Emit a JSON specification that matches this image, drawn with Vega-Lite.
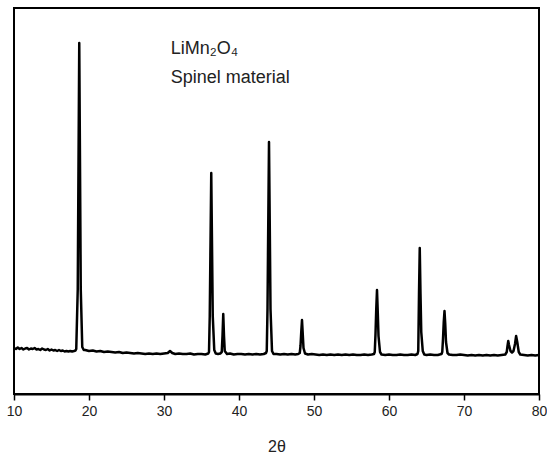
{
  "$schema": "https://vega.github.io/schema/vega-lite/v6.json",
  "width": 525,
  "height": 386,
  "autosize": {"type": "none"},
  "padding": {"left": 14, "top": 8, "right": 8, "bottom": 61},
  "background": "white",
  "config": {
    "view": {"stroke": "black", "strokeWidth": 2},
    "font": "Liberation Sans"
  },
  "datasets": {
    "xrd": [
      {"t": 10.0, "i": 46}, {"t": 10.25, "i": 45}, {"t": 10.5, "i": 46.5}, {"t": 10.75, "i": 45}, {"t": 11.0, "i": 46},
      {"t": 11.25, "i": 44.5}, {"t": 11.5, "i": 45.5}, {"t": 11.75, "i": 46}, {"t": 12.0, "i": 44.5}, {"t": 12.25, "i": 45.5},
      {"t": 12.5, "i": 45}, {"t": 12.75, "i": 46}, {"t": 13.0, "i": 44.5}, {"t": 13.25, "i": 45}, {"t": 13.5, "i": 44},
      {"t": 13.75, "i": 45.5}, {"t": 14.0, "i": 44.5}, {"t": 14.25, "i": 44}, {"t": 14.5, "i": 45}, {"t": 14.75, "i": 43.5},
      {"t": 15.0, "i": 44.5}, {"t": 15.25, "i": 43.5}, {"t": 15.5, "i": 44}, {"t": 15.75, "i": 43}, {"t": 16.0, "i": 44},
      {"t": 16.25, "i": 43}, {"t": 16.5, "i": 43.5}, {"t": 16.75, "i": 42.5}, {"t": 17.0, "i": 43}, {"t": 17.25, "i": 42.5},
      {"t": 17.5, "i": 43}, {"t": 17.75, "i": 42.5}, {"t": 18.0, "i": 43}, {"t": 18.2, "i": 43.5},
      {"t": 18.3, "i": 45}, {"t": 18.5, "i": 105}, {"t": 18.6, "i": 230}, {"t": 18.7, "i": 351}, {"t": 18.8, "i": 230},
      {"t": 18.9, "i": 105}, {"t": 19.1, "i": 47}, {"t": 19.3, "i": 44},
      {"t": 19.5, "i": 44}, {"t": 20.0, "i": 43}, {"t": 20.5, "i": 43.5}, {"t": 21.0, "i": 42.5}, {"t": 21.5, "i": 43},
      {"t": 22.0, "i": 42}, {"t": 22.5, "i": 42.5}, {"t": 23.0, "i": 42}, {"t": 23.5, "i": 41.5}, {"t": 24.0, "i": 42},
      {"t": 24.5, "i": 41}, {"t": 25.0, "i": 41.5}, {"t": 25.5, "i": 41}, {"t": 26.0, "i": 40.5}, {"t": 26.5, "i": 41},
      {"t": 27.0, "i": 40.5}, {"t": 27.5, "i": 40}, {"t": 28.0, "i": 40.5}, {"t": 28.5, "i": 40}, {"t": 29.0, "i": 40.5},
      {"t": 29.5, "i": 40}, {"t": 30.0, "i": 40.5}, {"t": 30.5, "i": 41}, {"t": 30.8, "i": 43}, {"t": 31.1, "i": 41},
      {"t": 31.5, "i": 40}, {"t": 32.0, "i": 40.5}, {"t": 32.5, "i": 40}, {"t": 33.0, "i": 40}, {"t": 33.5, "i": 40.5},
      {"t": 34.0, "i": 39.5}, {"t": 34.5, "i": 40}, {"t": 35.0, "i": 40}, {"t": 35.5, "i": 39.5}, {"t": 35.9, "i": 40.5},
      {"t": 36.0, "i": 42}, {"t": 36.1, "i": 78}, {"t": 36.2, "i": 150}, {"t": 36.3, "i": 221}, {"t": 36.4, "i": 150},
      {"t": 36.5, "i": 78}, {"t": 36.7, "i": 44}, {"t": 36.9, "i": 40.5}, {"t": 37.2, "i": 40}, {"t": 37.5, "i": 40.5},
      {"t": 37.7, "i": 42}, {"t": 37.8, "i": 58}, {"t": 37.9, "i": 80}, {"t": 38.0, "i": 58}, {"t": 38.1, "i": 43},
      {"t": 38.4, "i": 40}, {"t": 38.8, "i": 40.5}, {"t": 39.3, "i": 39.5}, {"t": 39.8, "i": 40}, {"t": 40.3, "i": 40},
      {"t": 40.8, "i": 39.5}, {"t": 41.3, "i": 40}, {"t": 41.8, "i": 39.5}, {"t": 42.3, "i": 40}, {"t": 42.8, "i": 39.5},
      {"t": 43.3, "i": 40}, {"t": 43.6, "i": 41},
      {"t": 43.7, "i": 43}, {"t": 43.8, "i": 85}, {"t": 43.9, "i": 170}, {"t": 44.0, "i": 252}, {"t": 44.1, "i": 170},
      {"t": 44.2, "i": 85}, {"t": 44.4, "i": 43}, {"t": 44.6, "i": 40},
      {"t": 45.0, "i": 40}, {"t": 45.5, "i": 39.5}, {"t": 46.0, "i": 40}, {"t": 46.5, "i": 39.5}, {"t": 47.0, "i": 40},
      {"t": 47.5, "i": 39.5}, {"t": 47.9, "i": 40},
      {"t": 48.1, "i": 41}, {"t": 48.2, "i": 48}, {"t": 48.3, "i": 62}, {"t": 48.4, "i": 74}, {"t": 48.5, "i": 60},
      {"t": 48.6, "i": 46}, {"t": 48.8, "i": 40.5},
      {"t": 49.2, "i": 39.5}, {"t": 49.7, "i": 40}, {"t": 50.2, "i": 39.5}, {"t": 50.7, "i": 39}, {"t": 51.2, "i": 39.5},
      {"t": 51.7, "i": 39}, {"t": 52.2, "i": 39.5}, {"t": 52.7, "i": 39}, {"t": 53.2, "i": 39.5}, {"t": 53.7, "i": 39},
      {"t": 54.2, "i": 39.5}, {"t": 54.7, "i": 39}, {"t": 55.2, "i": 39.5}, {"t": 55.7, "i": 39}, {"t": 56.2, "i": 39},
      {"t": 56.7, "i": 39.5}, {"t": 57.2, "i": 39}, {"t": 57.7, "i": 39.5}, {"t": 58.0, "i": 40},
      {"t": 58.1, "i": 42}, {"t": 58.2, "i": 60}, {"t": 58.3, "i": 85}, {"t": 58.4, "i": 104}, {"t": 58.5, "i": 82},
      {"t": 58.6, "i": 58}, {"t": 58.8, "i": 42}, {"t": 59.0, "i": 39.5},
      {"t": 59.5, "i": 39}, {"t": 60.0, "i": 39.5}, {"t": 60.5, "i": 39}, {"t": 61.0, "i": 39}, {"t": 61.5, "i": 39.5},
      {"t": 62.0, "i": 39}, {"t": 62.5, "i": 39}, {"t": 63.0, "i": 39.5}, {"t": 63.5, "i": 39}, {"t": 63.8, "i": 40},
      {"t": 63.9, "i": 43}, {"t": 64.0, "i": 100}, {"t": 64.1, "i": 146}, {"t": 64.2, "i": 100}, {"t": 64.3, "i": 62},
      {"t": 64.5, "i": 43}, {"t": 64.7, "i": 39.5},
      {"t": 65.0, "i": 39}, {"t": 65.5, "i": 39.5}, {"t": 66.0, "i": 39}, {"t": 66.5, "i": 39}, {"t": 67.0, "i": 40},
      {"t": 67.1, "i": 42}, {"t": 67.2, "i": 55}, {"t": 67.3, "i": 72}, {"t": 67.4, "i": 83}, {"t": 67.5, "i": 70},
      {"t": 67.6, "i": 52}, {"t": 67.8, "i": 41}, {"t": 68.0, "i": 39.5},
      {"t": 68.5, "i": 39}, {"t": 69.0, "i": 39}, {"t": 69.5, "i": 39.5}, {"t": 70.0, "i": 39}, {"t": 70.5, "i": 38.5},
      {"t": 71.0, "i": 39}, {"t": 71.5, "i": 38.5}, {"t": 72.0, "i": 39}, {"t": 72.5, "i": 38.5}, {"t": 73.0, "i": 39},
      {"t": 73.5, "i": 38.5}, {"t": 74.0, "i": 39}, {"t": 74.5, "i": 38.5}, {"t": 75.0, "i": 39}, {"t": 75.5, "i": 39.5},
      {"t": 75.7, "i": 42}, {"t": 75.8, "i": 48}, {"t": 75.9, "i": 53}, {"t": 76.0, "i": 49}, {"t": 76.2, "i": 43},
      {"t": 76.4, "i": 41.5}, {"t": 76.6, "i": 43}, {"t": 76.8, "i": 50}, {"t": 76.95, "i": 58}, {"t": 77.1, "i": 52},
      {"t": 77.3, "i": 42}, {"t": 77.5, "i": 39.5},
      {"t": 78.0, "i": 39}, {"t": 78.5, "i": 38.5}, {"t": 79.0, "i": 39}, {"t": 79.5, "i": 38.5}, {"t": 80.0, "i": 39}
    ],
    "notes": [
      {"t": 30.9, "i": 340, "label": "LiMn₂O₄"},
      {"t": 30.9, "i": 311, "label": "Spinel material"}
    ]
  },
  "layer": [
    {
      "data": {"name": "xrd"},
      "mark": {"type": "line", "color": "black", "strokeWidth": 2.5, "strokeJoin": "round"},
      "encoding": {
        "x": {
          "field": "t",
          "type": "quantitative",
          "scale": {"domain": [10, 80], "nice": false, "zero": false},
          "axis": {
            "title": "2θ",
            "values": [10, 15, 20, 25, 30, 35, 40, 45, 50, 55, 60, 65, 70, 75, 80],
            "labelExpr": "datum.value % 10 === 0 ? datum.label : ''",
            "tickSize": {"condition": {"test": "datum.value % 10 === 0", "value": 6}, "value": 3},
            "tickColor": "black",
            "tickWidth": 1.5,
            "domainColor": "black",
            "domainWidth": 2,
            "grid": false,
            "labelFont": "Liberation Sans",
            "labelFontSize": 14,
            "labelColor": "#222",
            "labelPadding": 4,
            "labelFlush": false,
            "labelOverlap": false,
            "titleFont": "Liberation Sans",
            "titleFontSize": 16,
            "titleFontWeight": "normal",
            "titleColor": "#222",
            "titlePadding": 20
          }
        },
        "y": {
          "field": "i",
          "type": "quantitative",
          "scale": {"domain": [0, 386], "nice": false, "zero": false},
          "axis": null
        }
      }
    },
    {
      "data": {"name": "notes"},
      "mark": {"type": "text", "align": "left", "baseline": "alphabetic", "font": "Liberation Sans", "fontSize": 18, "color": "#222"},
      "encoding": {
        "x": {"field": "t", "type": "quantitative"},
        "y": {"field": "i", "type": "quantitative"},
        "text": {"field": "label"}
      }
    }
  ]
}
